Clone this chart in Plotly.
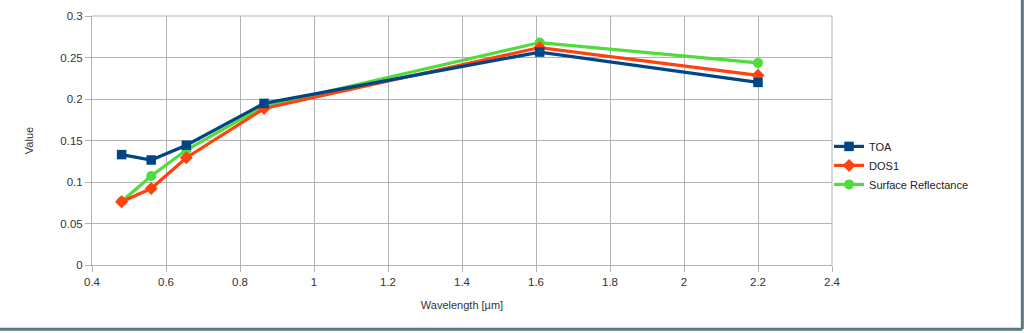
import plotly.graph_objects as go

wavelength = [0.48, 0.56, 0.655, 0.865, 1.61, 2.2]
toa = [0.133, 0.1265, 0.1443, 0.1947, 0.2565, 0.2200]
dos1 = [0.0763, 0.0921, 0.1292, 0.1885, 0.2620, 0.2285]
surface = [0.0765, 0.1072, 0.1385, 0.1915, 0.2680, 0.2435]

x_ticks = [0.4, 0.6, 0.8, 1, 1.2, 1.4, 1.6, 1.8, 2, 2.2, 2.4]
x_tick_text = ["0.4", "0.6", "0.8", "1", "1.2", "1.4", "1.6", "1.8", "2", "2.2", "2.4"]
y_ticks = [0, 0.05, 0.1, 0.15, 0.2, 0.25, 0.3]
y_tick_text = ["0", "0.05", "0.1", "0.15", "0.2", "0.25", "0.3"]

fig = go.Figure()
fig.add_trace(go.Scatter(x=wavelength, y=surface, name="Surface Reflectance", mode="lines+markers",
                         line=dict(color="#4fdc3c", width=3.2),
                         marker=dict(symbol="circle", size=10, color="#4fdc3c")))
fig.add_trace(go.Scatter(x=wavelength, y=dos1, name="DOS1", mode="lines+markers",
                         line=dict(color="#ff420e", width=3.2),
                         marker=dict(symbol="diamond", size=10, color="#ff420e")))
fig.add_trace(go.Scatter(x=wavelength, y=toa, name="TOA", mode="lines+markers",
                         line=dict(color="#004586", width=3.2),
                         marker=dict(symbol="square", size=9.5, color="#004586")))

axis_common = dict(showgrid=True, gridcolor="#b3b3b3", gridwidth=1, showline=True,
                   linecolor="#b3b3b3", linewidth=1, ticks="outside", ticklen=6,
                   tickcolor="#b3b3b3", zeroline=False,
                   tickfont=dict(family="Liberation Sans, Arial", size=11.5, color="#333333"))

fig.update_layout(
    width=1024, height=333,
    margin=dict(l=91.5, r=192, t=10, b=68),
    paper_bgcolor="white", plot_bgcolor="white",
    font=dict(family="Liberation Sans, Arial", size=11, color="#333333"),
    xaxis=dict(range=[0.4, 2.4], tickvals=x_ticks, ticktext=x_tick_text,
               title=dict(text="Wavelength [µm]", font=dict(size=11, color="#333333"), standoff=14),
               **axis_common),
    yaxis=dict(range=[0, 0.3], tickvals=y_ticks, ticktext=y_tick_text,
               title=dict(text="Value", font=dict(size=11, color="#333333"), standoff=24),
               **axis_common),
    legend=dict(x=0.996, xanchor="left", y=0.40, yanchor="middle", traceorder="reversed",
                font=dict(size=11, color="#222222"), itemwidth=30,
                bgcolor="rgba(0,0,0,0)"),
    showlegend=True,
    shapes=[
        dict(type="line", xref="paper", yref="paper", x0=0.0, x1=1.0, y0=1.0, y1=1.0,
             line=dict(color="#b3b3b3", width=1)),
        dict(type="line", xref="paper", yref="paper", x0=1.0, x1=1.0, y0=0.0, y1=1.0,
             line=dict(color="#b3b3b3", width=1)),
        dict(type="line", xref="paper", yref="paper", x0=-0.13, x1=1.2572, y0=-0.258, y1=-0.258,
             line=dict(color="#5b7880", width=3)),
        dict(type="line", xref="paper", yref="paper", x0=1.2572, x1=1.2572, y0=-0.258, y1=1.08,
             line=dict(color="#5b7880", width=3)),
    ],
)

fig.write_html("out.html")
